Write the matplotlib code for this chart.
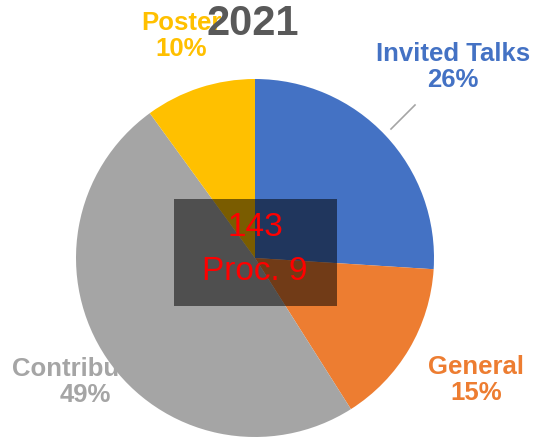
import matplotlib.pyplot as plt
from matplotlib.patches import Rectangle

plt.rcParams['font.family'] = ['Liberation Sans', 'DejaVu Sans']

# data
categories = ['Invited Talks', 'General', 'Contributed', 'Poster']
shares = [26, 15, 49, 10]
colors = ['#4472C4', '#ED7D31', '#A5A5A5', '#FFC000']
box_lines = ['143', 'Proc. 9']
title = '2021'

W, H = 537, 439
fig = plt.figure(figsize=(W / 100, H / 100), dpi=100)
ax = fig.add_axes([0, 0, 1, 1])

# pie (clockwise from 12 o'clock)
cx, cy, r = 255, H - 259, 179
wedges, _ = ax.pie(shares, colors=colors, startangle=90, counterclock=False,
                   center=(cx, cy), radius=r, frame=True,
                   wedgeprops=dict(linewidth=0))
for w in wedges:
    w.set_zorder(2)
ax.set_xlim(0, W)
ax.set_ylim(0, H)
ax.set_aspect('equal')
ax.axis('off')

# outside labels: (x, y in pixel from top)
label_pos = {
    'Invited Talks': (453, 67),
    'General': (476, 380),
    'Contributed': (85, 382),
    'Poster': (181, 36),
}
for cat, val, col in zip(categories, shares, colors):
    x, y = label_pos[cat]
    ax.text(x, H - y, f'{cat}\n{val}%', color=col, fontsize=18.5, fontweight='bold',
            ha='center', va='center', linespacing=1.1, zorder=1)

# leader line for Invited Talks
ax.plot([391, 415], [H - 130, H - 106], color='#A5A5A5', lw=1.2, zorder=3)

# title
ax.text(253, H - 24, title, color='#595959', fontsize=30, fontweight='bold',
        ha='center', va='center', zorder=4)

# translucent box with red text
ax.add_patch(Rectangle((174, H - 307), 163, 107, facecolor='black', alpha=0.52,
                       edgecolor='none', zorder=5))
ax.text(255, H - 228, box_lines[0], color='red', fontsize=24, ha='center',
        va='center', zorder=6)
ax.text(255, H - 272, box_lines[1], color='red', fontsize=24, ha='center',
        va='center', zorder=6)

plt.savefig('out.png', dpi=100)
